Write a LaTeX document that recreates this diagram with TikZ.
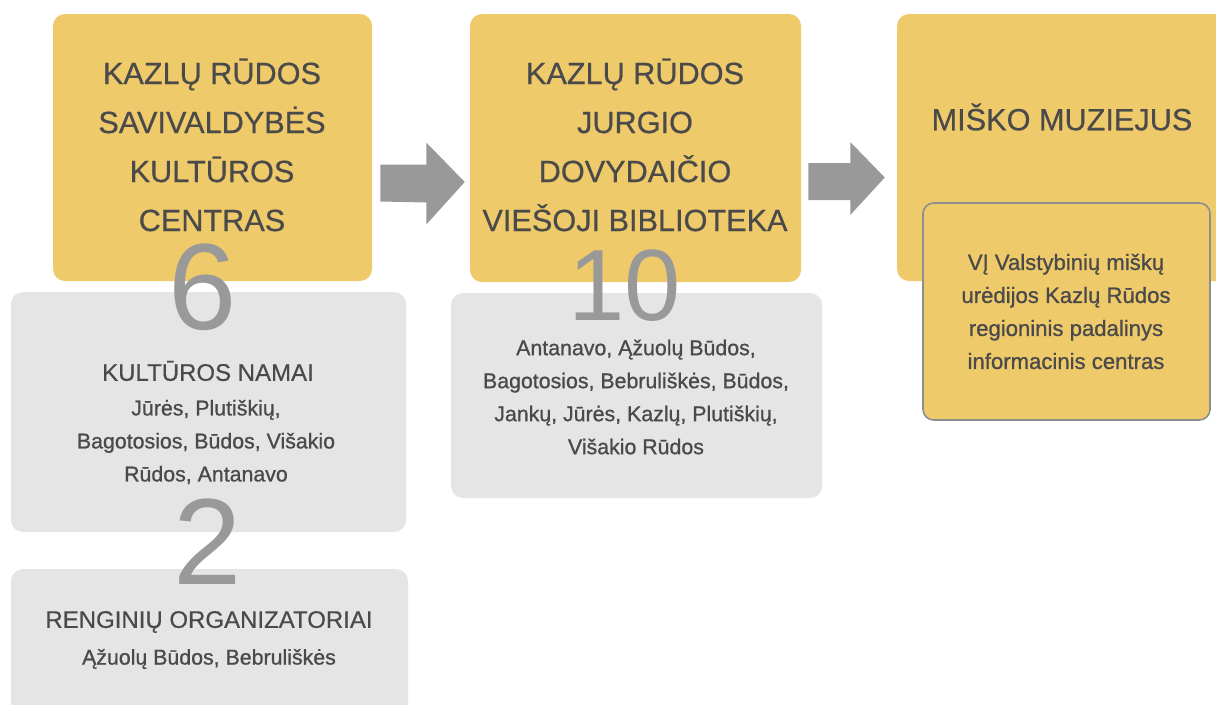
\documentclass[tikz,border=0pt]{standalone}
\usepackage{fontspec}
\setmainfont{Liberation Sans}
\newfontfamily\medfont[FakeBold=0.5]{Liberation Sans}
\newfontfamily\semifont[FakeBold=0.9]{Liberation Sans}
\usetikzlibrary{calc}
\definecolor{boxyellow}{HTML}{EECA6A}
\definecolor{boxgray}{HTML}{E5E5E5}
\definecolor{txtdark}{HTML}{4A4A4A}
\definecolor{numgray}{HTML}{999999}
\definecolor{bordergray}{HTML}{8E8E8E}
\begin{document}
\begin{tikzpicture}[x=0.75pt,y=-0.75pt,
  ybox/.style={fill=boxyellow,draw=none,rounded corners=9pt,inner sep=0pt},
  gbox/.style={fill=boxgray,draw=none,rounded corners=9pt,inner sep=0pt},
  ibox/.style={fill=boxyellow,draw=bordergray,line width=1.2pt,rounded corners=8pt,inner sep=0pt},
  titletxt/.style={text=txtdark,align=center,inner sep=0pt,font=\medfont\fontsize{23pt}{36.75pt}\selectfont},
  headtxt/.style={text=txtdark,align=center,inner sep=0pt,font=\medfont\fontsize{18pt}{21pt}\selectfont},
  smalltxt/.style={text=txtdark,align=center,inner sep=0pt,font=\semifont\fontsize{16pt}{24.75pt}\selectfont},
  bignum/.style={text=numgray,inner sep=0pt,font=\fontsize{92pt}{92pt}\selectfont},
  arrowfill/.style={fill=numgray,draw=none}]
\clip (0,0) rectangle (1216,704);
\fill[white] (0,0) rectangle (1216,704);
% yellow boxes
\node[ybox,minimum width=239.25pt,minimum height=200.25pt] (k1) at (212.5,147.5) {};
\node[ybox,minimum width=248.25pt,minimum height=201pt] (k2) at (635.5,148) {};
\node[ybox,minimum width=248.25pt,minimum height=200.25pt] (k3) at (1062.5,147.5) {};
% gray boxes
\node[gbox,minimum width=296.25pt,minimum height=180pt] (g1) at (208.5,412) {};
\node[gbox,minimum width=297.75pt,minimum height=113.25pt] (g2) at (209.5,644.5) {};
\node[gbox,minimum width=278.25pt,minimum height=153.75pt] (g3) at (636.5,395.5) {};
% inner box
\node[ibox,minimum width=215.25pt,minimum height=162.75pt] (in) at (1066.5,311.5) {};
% arrows
\fill[arrowfill] ($(k1.east)+(8,17)$) -- ++(46,0) -- ++(0,-22) -- ($(k2.west)+(-5,34)$) -- ($(k1.east)+(54,77)$) -- ++(0,-22) -- ($(k1.east)+(8,54)$) -- cycle;
\fill[arrowfill] ($(k2.east)+(7,15)$) -- ++(42,0) -- ++(0,-21) -- ($(k3.west)+(-12,30)$) -- ($(k2.east)+(49,67)$) -- ++(0,-15) -- ($(k2.east)+(7,52)$) -- cycle;
% titles
\node[titletxt] (t1) at (212,145) {KAZLŲ RŪDOS\\SAVIVALDYBĖS\\KULTŪROS\\CENTRAS};
\node[titletxt] (t2) at (635,145) {KAZLŲ RŪDOS\\JURGIO\\DOVYDAIČIO\\VIEŠOJI BIBLIOTEKA};
\node[titletxt] (t3) at (1062,117) {MIŠKO MUZIEJUS};
\node[smalltxt,font=\semifont\fontsize{16.6pt}{24.75pt}\selectfont] (t4) at (1066,311.5) {VĮ Valstybinių miškų\\urėdijos Kazlų Rūdos\\regioninis padalinys\\informacinis centras};
% gray box texts
\node[headtxt] (h1) at (208,371) {KULTŪROS NAMAI};
\node[smalltxt] (s1) at (206,442) {Jūrės, Plutiškių,\\Bagotosios, Būdos, Višakio\\Rūdos, Antanavo};
\node[headtxt] (h2) at (209,622) {RENGINIŲ ORGANIZATORIAI};
\node[smalltxt] (s2) at (209,659) {Ąžuolų Būdos, Bebruliškės};
\node[smalltxt] (s3) at (636,397) {Antanavo, Ąžuolų Būdos,\\Bagotosios, Bebruliškės, Būdos,\\Jankų, Jūrės, Kazlų, Plutiškių,\\Višakio Rūdos};
% big numbers
\node[bignum] (n6) at (203,287) {6};
\node[bignum,font=\fontsize{76pt}{76pt}\selectfont] (n10) at (625,286) {10};
\node[bignum] (n2) at (208,542) {2};
\end{tikzpicture}
\end{document}
